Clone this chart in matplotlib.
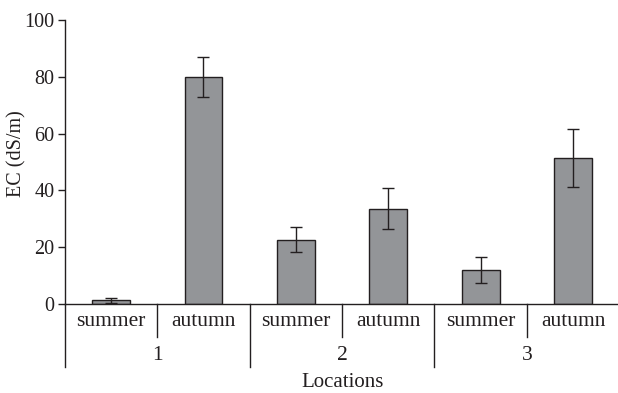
import numpy as np
import matplotlib.pyplot as plt
import matplotlib.transforms as mtransforms

plt.rcParams['font.family'] = ['Liberation Serif', 'DejaVu Serif']

locations = ['1', '2', '3']
seasons = ['summer', 'autumn']
ec_values = [1.3, 80.0, 22.7, 33.6, 12.0, 51.5]
ec_errors = [0.8, 7.1, 4.5, 7.3, 4.6, 10.2]

fig = plt.figure(figsize=(6.18, 3.93), dpi=100)
ax = fig.add_axes([0.105, 0.2265, 0.897, 0.7225])

x = np.arange(len(ec_values))
ax.bar(x, ec_values, width=0.41, color='#939598', edgecolor='#231f20', linewidth=1.0,
       yerr=ec_errors, error_kw=dict(ecolor='#231f20', elinewidth=1.0, capsize=4.5, capthick=1.0))

ax.set_xlim(-0.5, len(ec_values) - 0.5)
ax.set_ylim(0, 100)
ax.set_yticks(np.arange(0, 101, 20))
ax.set_xticks([])
for side in ['top', 'right']:
    ax.spines[side].set_visible(False)
for side in ['left', 'bottom']:
    ax.spines[side].set_color('#231f20')
    ax.spines[side].set_linewidth(1.0)
ax.tick_params(axis='y', direction='out', length=5, width=1.0, colors='#231f20', labelsize=14.5, pad=2.5)
ax.set_ylabel('EC (dS/m)', fontsize=14.5, color='#231f20')
ax.yaxis.set_label_coords(-0.069, 0.53)

trans = mtransforms.blended_transform_factory(ax.transData, ax.transAxes)
px = 1.0 / 284  # one pixel in axes units (vertical)

# boundaries below the axis
for i in range(len(ec_values) + 1):
    b = i - 0.5
    if i % 2 == 0:
        bottom = -63 * px
    else:
        bottom = -33 * px
    ax.plot([b, b], [0, bottom], transform=trans, color='#231f20', lw=1.0, clip_on=False)

# season labels
for i in range(len(ec_values)):
    ax.text(i, -18 * px, seasons[i % 2], transform=trans, ha='center', va='center',
            fontsize=15.5, color='#231f20')

# location labels
for j, loc in enumerate(locations):
    ax.text(2 * j + 0.5, -52 * px, loc, transform=trans, ha='center', va='center',
            fontsize=15.5, color='#231f20')

ax.text(2.5, -79 * px, 'Locations', transform=trans, ha='center', va='center',
        fontsize=15, color='#231f20')

fig.savefig('out.png', dpi=100)
